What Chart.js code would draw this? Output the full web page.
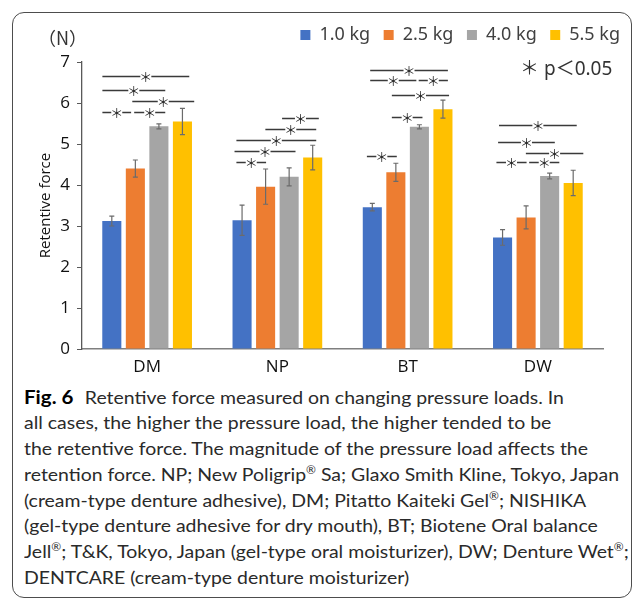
<!DOCTYPE html>
<html><head><meta charset="utf-8">
<script src="https://cdn.jsdelivr.net/npm/chart.js@4.4.1/dist/chart.umd.min.js"></script>
<style>
html,body{margin:0;padding:0;background:#fff;}
body{width:634px;height:599px;position:relative;overflow:hidden;}
#frame{position:absolute;left:12px;top:12px;width:620px;height:586px;border:1.5px solid #4d4d4d;border-radius:12px;box-sizing:border-box;}
#wrap{position:absolute;left:0;top:0;width:634px;height:380px;}
#unit{position:absolute;left:38px;top:27px;font-size:18px;line-height:20px;font-family:"Noto Sans CJK JP";color:#333;white-space:nowrap;}
#sig{position:absolute;left:520px;top:58px;font-size:19px;line-height:20px;font-family:"Noto Sans","Noto Sans CJK JP";color:#333;white-space:nowrap;}
#caption{position:absolute;left:24px;top:384px;}
.cl{white-space:nowrap;font-family:Lato,"Noto Sans";font-size:18px;color:#2a2a2a;height:25.9px;line-height:25.9px;transform-origin:0 50%;width:max-content;}
.cl b{color:#000;font-weight:700;margin-right:6px;font-size:19px;}
.cl sup{font-size:11px;line-height:0;vertical-align:7px;}
</style></head>
<body>
<div id="frame"></div>
<div id="wrap"><canvas id="c" width="634" height="380"></canvas></div>
<div id="unit">（N）</div>
<div id="sig">＊ p＜0.05</div>
<div id="caption">
<div class="cl"><b>Fig. 6</b> Retentive force measured on changing pressure loads. In</div>
<div class="cl">all cases, the higher the pressure load, the higher tended to be</div>
<div class="cl" id="refLine">the retentive force. The magnitude of the pressure load affects the</div>
<div class="cl">retention force. NP; New Poligrip<sup>®</sup> Sa; Glaxo Smith Kline, Tokyo, Japan</div>
<div class="cl">(cream-type denture adhesive), DM; Pitatto Kaiteki Gel<sup>®</sup>; NISHIKA</div>
<div class="cl">(gel-type denture adhesive for dry mouth), BT; Biotene Oral balance</div>
<div class="cl">Jell<sup>®</sup>; T&amp;K, Tokyo, Japan (gel-type oral moisturizer), DW; Denture Wet<sup>®</sup>;</div>
<div class="cl">DENTCARE (cream-type denture moisturizer)</div>
</div>
<script>
// ---- data ----
const categories = ['DM', 'NP', 'BT', 'DW'];
const seriesLabels = ['1.0 kg', '2.5 kg', '4.0 kg', '5.5 kg'];
const load10 = [3.12, 3.14, 3.46, 2.72];
const load25 = [4.40, 3.96, 4.31, 3.21];
const load40 = [5.43, 4.20, 5.42, 4.22];
const load55 = [5.55, 4.67, 5.85, 4.05];
const sd10 = [0.12, 0.37, 0.09, 0.19];
const sd25 = [0.21, 0.43, 0.22, 0.28];
const sd40 = [0.06, 0.22, 0.05, 0.07];
const sd55 = [0.32, 0.30, 0.22, 0.31];
const yTicks = [0, 1, 2, 3, 4, 5, 6, 7];
// significance brackets: [category index, from bar (index units), to bar, level in N]
const sigBrackets = [
  [0, -0.40, 3.29, 6.65], [0, -0.40, 2.27, 6.31], [0, 0.87, 3.50, 6.05], [0, -0.40, 0.82, 5.77], [0, 0.95, 2.27, 5.77],
  [1, 1.70, 3.26, 5.63], [1, 0.99, 3.15, 5.37], [1, -0.24, 3.15, 5.10], [1, -0.32, 2.27, 4.84], [1, -0.24, 1.02, 4.55],
  [2, -0.09, 3.21, 6.81], [2, -0.09, 1.87, 6.55], [2, 1.97, 3.21, 6.55], [2, 0.83, 3.26, 6.19], [2, 0.83, 2.13, 5.67], [2, -0.23, 1.04, 4.71],
  [3, -0.15, 3.15, 5.47], [3, -0.19, 2.22, 5.06], [3, 0.99, 3.43, 4.78], [3, -0.26, 1.02, 4.55], [3, 1.13, 2.41, 4.55]
];
const seriesValues = [load10, load25, load40, load55];
const seriesErrors = [sd10, sd25, sd40, sd55];
const colors = ['#4472C4', '#ED7D31', '#A5A5A5', '#FFC000'];

// caption: one uniform horizontal scale for all lines, set from the third line's width
function fitCaption() {
  const lines = document.querySelectorAll('.cl');
  lines.forEach(el => { el.style.transform = 'none'; });
  const ref = document.getElementById('refLine').getBoundingClientRect().width;
  const k = 564 / ref;
  lines.forEach(el => { el.style.transform = 'scaleX(' + k + ')'; });
}
fitCaption();
if (document.fonts) { document.fonts.load('18px Lato').then(fitCaption); document.fonts.ready.then(fitCaption); }

const legendFit = {
  id: 'legendFit',
  beforeInit(chart) {
    const orig = chart.legend.fit;
    chart.legend.fit = function () { orig.call(this); this.height = 49.5; };
  },
  afterLayout(chart) {
    chart.legend.left += 30.5; chart.legend.right += 30.5;
  }
};

const errorBars = {
  id: 'errorBars',
  afterDatasetsDraw(chart) {
    const ctx = chart.ctx, ys = chart.scales.y;
    ctx.save();
    ctx.strokeStyle = '#6b6b6b';
    ctx.lineWidth = 1.2;
    chart.data.datasets.forEach((ds, i) => {
      const meta = chart.getDatasetMeta(i);
      meta.data.forEach((bar, j) => {
        const v = ds.data[j], e = seriesErrors[i][j];
        const t = ys.getPixelForValue(v + e), b = ys.getPixelForValue(v - e);
        ctx.beginPath();
        ctx.moveTo(bar.x, t); ctx.lineTo(bar.x, b);
        ctx.moveTo(bar.x - 2.5, t); ctx.lineTo(bar.x + 2.5, t);
        ctx.moveTo(bar.x - 2.5, b); ctx.lineTo(bar.x + 2.5, b);
        ctx.stroke();
      });
    });
    ctx.restore();
  }
};

const brackets = {
  id: 'brackets',
  afterDatasetsDraw(chart) {
    const ctx = chart.ctx, ys = chart.scales.y;
    const m0 = chart.getDatasetMeta(0), m1 = chart.getDatasetMeta(1);
    ctx.save();
    ctx.strokeStyle = '#3a3a3a';
    ctx.fillStyle = '#222';
    ctx.lineWidth = 1.4;
    ctx.font = '13px "Noto Sans CJK JP"';
    ctx.textAlign = 'center';
    ctx.textBaseline = 'middle';
    sigBrackets.forEach(([c, a, b, lvl]) => {
      const x0 = m0.data[c].x, step = m1.data[c].x - x0;
      const xa = x0 + a * step, xb = x0 + b * step;
      const y = Math.round(ys.getPixelForValue(lvl)) + 0.5;
      const mid = (xa + xb) / 2;
      ctx.beginPath();
      ctx.moveTo(xa, y); ctx.lineTo(mid - 5.5, y);
      ctx.moveTo(mid + 5.5, y); ctx.lineTo(xb, y);
      ctx.stroke();
      ctx.fillText('＊', mid, y + 1);
    });
    ctx.restore();
  }
};

new Chart(document.getElementById('c'), {
  type: 'bar',
  data: {
    labels: categories,
    datasets: seriesValues.map((v, i) => ({
      label: seriesLabels[i], data: v, backgroundColor: colors[i],
      borderWidth: 0, categoryPercentage: 0.723, barPercentage: 0.81
    }))
  },
  options: {
    responsive: false, animation: false, devicePixelRatio: 1,
    layout: { padding: { left: 37, right: 31, top: 12.5, bottom: 0 } },
    plugins: {
      legend: {
        position: 'top', align: 'end',
        labels: { boxWidth: 10, boxHeight: 10, padding: 13.5, color: '#404040', font: { family: 'Noto Sans', size: 18 } }
      },
      tooltip: { enabled: false }
    },
    scales: {
      x: {
        grid: { display: false, drawTicks: false },
        border: { display: true, color: '#7f7f7f', width: 1.5 },
        ticks: { color: '#111', font: { family: 'Open Sans', size: 17 }, padding: 8 },
        afterFit(s) { s.height = 31; }
      },
      y: {
        min: 0, max: 7,
        afterBuildTicks(s) { s.ticks = yTicks.map(v => ({ value: v })); },
        ticks: { color: '#111', font: { family: 'Open Sans', size: 17 }, padding: 7 },
        grid: { display: true, drawOnChartArea: false, drawTicks: true, tickLength: 5, color: '#595959', tickColor: '#595959' },
        border: { display: true, color: '#595959', width: 1.3 },
        title: { display: true, text: 'Retentive force', color: '#111', font: { family: 'Open Sans', size: 15 }, padding: 0 },
        afterFit(s) { s.width = 45; }
      }
    }
  },
  plugins: [legendFit, errorBars, brackets]
});
</script>
</body></html>
